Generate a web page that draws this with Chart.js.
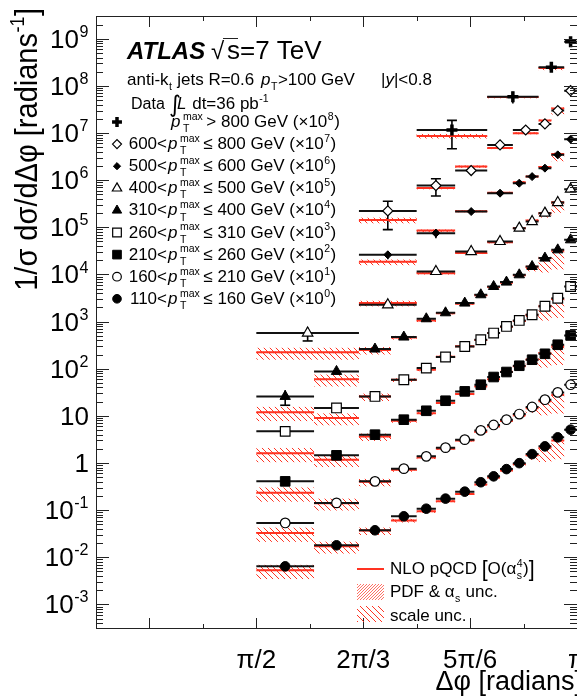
<!DOCTYPE html>
<html><head><meta charset="utf-8">
<script src="https://cdn.jsdelivr.net/npm/chart.js@4.4.0/dist/chart.umd.min.js"></script>
<style>html,body{margin:0;padding:0;background:#fff}canvas{display:block}</style>
</head><body>
<canvas id="grafico" width="577" height="697"></canvas>
<script>
// bin edges, in units of pi
const binsFine = [0.5,0.59,0.66,0.71,0.75,0.78,0.81,0.84,0.86,0.88,0.90,0.92,0.94,0.96,0.98,1.0];
const bins400 = [0.5,0.66,0.75,0.81,0.86,0.90,0.92,0.94,0.96,0.98,1.0];
const bins500 = [0.66,0.75,0.81,0.86,0.90,0.92,0.94,0.96,0.98,1.0];
const bins600 = [0.66,0.75,0.81,0.86,0.90,0.94,0.96,0.98,1.0];
const bins800 = [0.75,0.86,0.94,0.98,1.0];

// plotted values (already multiplied by the factor in the legend)
const val800 = [1.16e7, 5.9e7, 2.49e8, 8.67e8];
const err800 = [0.6, 0.28, 0.1, 0.06];
const nlo800 = [8.7e6, 5.8e7, 2.4e8, null];
const dn800 = [0.12, 0.06, 0.1, 0];
const up800 = [0.1, 0.05, 0.06, 0];

const val600 = [2.23e5, 7.68e5, 1.6e6, 5.6e6, 1.16e7, 1.56e7, 2.99e7, 7.9e7];
const err600 = [0.6, 0.4, 0.2, 0.08, 0.06, 0.06, 0.06, 0.06];
const nlo600 = [1.43e5, 6.8e5, 1.95e6, 4.8e6, 9.9e6, 1.85e7, 3.3e7, null];
const dn600 = [0.15, 0.06, 0.06, 0.05, 0.05, 0.1, 0.25, 0];
const up600 = [0.12, 0.05, 0.05, 0.05, 0.05, 0.05, 0.06, 0];

const val500 = [2.61e4, 7.52e4, 2.16e5, 5.3e5, 8.63e5, 1.19e6, 1.8e6, 3.44e6, 7.4e6];
const err500 = [0.2, 0.22, 0.06, 0.04, 0.04, 0.04, 0.04, 0.04, 0.04];
const nlo500 = [1.85e4, 8.5e4, 2.2e5, 5.4e5, 9.0e5, 1.2e6, 1.9e6, 3.6e6, null];
const dn500 = [0.15, 0.06, 0.05, 0.05, 0.05, 0.05, 0.12, 0.3, 0];
const up500 = [0.12, 0.05, 0.05, 0.05, 0.05, 0.05, 0.05, 0.06, 0];

const val400 = [570, 2270, 11530, 30600, 49900, 96000, 132500, 199600, 335000, 644000];
const err400 = [0.32, 0.06, 0.04, 0.03, 0.03, 0.03, 0.03, 0.03, 0.03, 0.03];
const nlo400 = [222, 2470, 10600, 28500, 48000, 96000, 140000, 200000, 340000, null];
const dn400 = [0.3, 0.15, 0.06, 0.05, 0.05, 0.05, 0.08, 0.2, 0.4, 0];
const up400 = [0.25, 0.12, 0.05, 0.05, 0.05, 0.05, 0.05, 0.06, 0.06, 0];

const val310 = [25.8, 87.5, 261, 469, 1146, 1535, 2465, 3700, 5545, 6875, 9815, 14720, 22200, 33250, 54200];
const err310 = [0.35, 0.1, 0.06, 0.04, 0.03, 0.03, 0.03, 0.03, 0.03, 0.03, 0.03, 0.03, 0.03, 0.03, 0.03];
const nlo310 = [11.9, 60, 250, 460, 1050, 1500, 2400, 3600, 5400, 6700, 9600, 14500, 22000, 32000, null];

const val260 = [4.68, 14.7, 25.8, 58.3, 103, 177, 296, 411, 570, 787, 1055, 1393, 2110, 3120, 5545];
const err260 = [0.12, 0.06, 0.05, 0.03, 0.03, 0.02, 0.02, 0.02, 0.02, 0.02, 0.02, 0.02, 0.02, 0.02, 0.02];
const nlo260 = [1.6, 9.0, 25.8, 58, 95, 180, 300, 405, 570, 780, 1030, 1390, 2100, 3000, null];

const val210 = [0.407, 1.45, 3.98, 8.28, 12.8, 20.9, 33, 45.7, 66.6, 85, 115.5, 155, 207, 322, 507];
const err210 = [0.08, 0.05, 0.03, 0.03, 0.02, 0.02, 0.02, 0.02, 0.02, 0.02, 0.02, 0.02, 0.02, 0.02, 0.02];
const nlo210 = [0.232, 1.17, 3.66, 7.9, 11.4, 18.6, 29, 42, 60, 86, 113, 155, 212, 300, null];

const val160 = [0.0534, 0.142, 0.407, 0.757, 1.38, 2.11, 3.12, 4.91, 6.4, 8.28, 10.9, 15.4, 22, 31.4, 45.7];
const err160 = [0.1, 0.05, 0.03, 0.03, 0.02, 0.02, 0.02, 0.02, 0.02, 0.02, 0.02, 0.02, 0.02, 0.02, 0.02];
const nlo160 = [0.0326, 0.14, 0.40, 0.72, 1.3, 2.0, 3.0, 4.6, 6.0, 7.8, 10.3, 14.5, 20.5, 28, null];

const val110 = [0.0064, 0.0179, 0.0373, 0.0738, 0.107, 0.175, 0.246, 0.39, 0.52, 0.74, 0.99, 1.54, 2.25, 3.49, 5.08];
const err110 = [0.08, 0.04, 0.03, 0.03, 0.02, 0.02, 0.02, 0.02, 0.02, 0.02, 0.02, 0.02, 0.02, 0.02, 0.02];
const nlo110 = [0.0053, 0.0171, 0.037, 0.0605, 0.094, 0.154, 0.22, 0.35, 0.49, 0.69, 0.95, 1.45, 2.1, 3.0, null];

// scale uncertainty of the fine-binned ranges (relative)
const dnFine = [0.35, 0.3, 0.2, 0.1, 0.07, 0.05, 0.05, 0.05, 0.05, 0.05, 0.07, 0.2, 0.5, 0.6, 0];
const upFine = [0.3, 0.25, 0.15, 0.08, 0.05, 0.05, 0.05, 0.05, 0.05, 0.05, 0.05, 0.06, 0.08, 0.08, 0];
const pdfUnc = 0.04;

// legend text
const legLow = ['', '600', '500', '400', '310', '260', '210', '160', '110'];
const legHigh = ['800', '800', '600', '500', '400', '310', '260', '210', '160'];
const legPow = ['8', '7', '6', '5', '4', '3', '2', '1', '0'];

const xTickVals = [1/2, 2/3, 5/6, 1];
const xTickText = ['\u03c0/2', '2\u03c0/3', '5\u03c0/6', '\u03c0'];
const yMin = Math.pow(10, -3.513), yMax = Math.pow(10, 9.483);

const RED = '#ff3322';
const fam = '"Liberation Sans", Arial, Helvetica, sans-serif';

const series = [
  {edges: bins800, val: val800, err: err800, nlo: nlo800, dn: dn800, up: up800, style: 'cross', fill: true, r: 5.5, bw: 3.5},
  {edges: bins600, val: val600, err: err600, nlo: nlo600, dn: dn600, up: up600, style: 'rectRot', fill: false, r: 5, bw: 1.2},
  {edges: bins500, val: val500, err: err500, nlo: nlo500, dn: dn500, up: up500, style: 'rectRot', fill: true, r: 4, bw: 1},
  {edges: bins400, val: val400, err: err400, nlo: nlo400, dn: dn400, up: up400, style: 'triangle', fill: false, r: 6, bw: 1.2},
  {edges: binsFine, val: val310, err: err310, nlo: nlo310, dn: dnFine, up: upFine, style: 'triangle', fill: true, r: 6, bw: 1},
  {edges: binsFine, val: val260, err: err260, nlo: nlo260, dn: dnFine, up: upFine, style: 'rect', fill: false, r: 6.8, bw: 1.2},
  {edges: binsFine, val: val210, err: err210, nlo: nlo210, dn: dnFine, up: upFine, style: 'rect', fill: true, r: 6.8, bw: 1},
  {edges: binsFine, val: val160, err: err160, nlo: nlo160, dn: dnFine, up: upFine, style: 'circle', fill: false, r: 4.8, bw: 1.2},
  {edges: binsFine, val: val110, err: err110, nlo: nlo110, dn: dnFine, up: upFine, style: 'circle', fill: true, r: 4.8, bw: 1}
];

function hatch(step, dir, lw) {
  const c = document.createElement('canvas');
  c.width = step; c.height = step;
  const g = c.getContext('2d');
  g.strokeStyle = RED; g.lineWidth = lw;
  g.beginPath();
  for (let k = -1; k <= 1; k++) {
    if (dir > 0) { g.moveTo(k * step, step); g.lineTo(k * step + step, 0); }
    else { g.moveTo(k * step, 0); g.lineTo(k * step + step, step); }
  }
  g.stroke();
  return g.createPattern(c, 'repeat');
}
const scalePat = hatch(6, -1, 1.0);
const pdfPat = hatch(3, 1, 0.7);

function partFont(p, size) {
  const s = p.sc ? size * p.sc : size;
  return (p.it ? 'italic ' : '') + (p.b ? 'bold ' : '') + s + 'px ' + (p.fam || fam);
}
function drawParts(ctx, parts, x, y, size, align) {
  const small = size * 0.62;
  const items = parts.map(q => {
    const p = typeof q === 'string' ? {t: q} : q;
    if (p.sup !== undefined || p.sub !== undefined) {
      ctx.font = small + 'px ' + fam;
      const w = Math.max(p.sup ? ctx.measureText(p.sup).width : 0, p.sub ? ctx.measureText(p.sub).width : 0);
      return {p, w: w + 1 + (p.pre || 0) + (p.gap || 0)};
    }
    ctx.font = partFont(p, size);
    return {p, w: ctx.measureText(p.t).width + (p.gap || 0)};
  });
  const total = items.reduce((a, b) => a + b.w, 0);
  let cx = align === 'right' ? x - total : align === 'center' ? x - total / 2 : x;
  ctx.textAlign = 'left'; ctx.textBaseline = 'alphabetic';
  for (const {p, w} of items) {
    if (p.sup !== undefined || p.sub !== undefined) {
      ctx.font = small + 'px ' + fam;
      const sx = cx + 0.5 + (p.pre || 0);
      if (p.sup) ctx.fillText(p.sup, sx, y - size * 0.42);
      if (p.sub) ctx.fillText(p.sub, sx, y + size * 0.3);
    } else {
      ctx.font = partFont(p, size);
      ctx.fillText(p.t, cx, y + (p.dy || 0));
    }
    cx += w;
  }
  return total;
}

// datasets built from the arrays
const datasets = [];
series.forEach(s => {
  const pts = [], seg = [], th = [];
  s.val.forEach((v, i) => {
    const lo = s.edges[i], hi = s.edges[i + 1];
    pts.push({x: (lo + hi) / 2, y: v});
    seg.push({x: lo, y: v}, {x: hi, y: v}, {x: hi, y: null});
    if (s.nlo[i] != null) th.push({x: lo, y: s.nlo[i]}, {x: hi, y: s.nlo[i]}, {x: hi, y: null});
  });
  datasets.push({type: 'scatter', data: pts, order: 0, pointStyle: s.style, pointRadius: s.r,
    pointBorderWidth: s.bw, pointBorderColor: '#000', pointBackgroundColor: s.fill ? '#000' : '#fff'});
  datasets.push({type: 'line', data: seg, order: 1, borderColor: '#111', borderWidth: 2,
    pointRadius: 0, spanGaps: false, fill: false});
  datasets.push({type: 'line', data: th, order: 2, borderColor: RED, borderWidth: 2,
    pointRadius: 0, spanGaps: false, fill: false});
});

const bandsPlugin = {
  id: 'bands',
  beforeDatasetsDraw(chart) {
    const {ctx, chartArea: a, scales: {x, y}} = chart;
    ctx.save();
    ctx.beginPath(); ctx.rect(a.left, a.top, a.right - a.left, a.bottom - a.top); ctx.clip();
    series.forEach(s => {
      s.val.forEach((v, i) => {
        const n = s.nlo[i];
        if (n == null) return;
        const x0 = x.getPixelForValue(s.edges[i]), x1 = x.getPixelForValue(s.edges[i + 1]);
        const t = y.getPixelForValue(n * (1 + s.up[i])), b = y.getPixelForValue(n * (1 - s.dn[i]));
        ctx.fillStyle = scalePat; ctx.fillRect(x0, t, x1 - x0, b - t);
        const pt = y.getPixelForValue(n * (1 + pdfUnc)), pb = y.getPixelForValue(n * (1 - pdfUnc));
        ctx.fillStyle = pdfPat; ctx.fillRect(x0, pt, x1 - x0, pb - pt);
      });
    });
    // statistical error bars
    ctx.strokeStyle = '#000'; ctx.lineWidth = 1.6;
    series.forEach(s => {
      s.val.forEach((v, i) => {
        const xc = x.getPixelForValue((s.edges[i] + s.edges[i + 1]) / 2);
        const yc = y.getPixelForValue(v);
        const yt = y.getPixelForValue(v * (1 + s.err[i]));
        const yb = y.getPixelForValue(Math.max(v * (1 - s.err[i]), yMin));
        ctx.beginPath(); ctx.moveTo(xc, yt); ctx.lineTo(xc, yb); ctx.stroke();
        ctx.beginPath();
        if (yc - yt > s.r + 1.5) { ctx.moveTo(xc - 5, yt); ctx.lineTo(xc + 5, yt); }
        if (yb - yc > s.r + 1.5) { ctx.moveTo(xc - 5, yb); ctx.lineTo(xc + 5, yb); }
        ctx.stroke();
      });
    });
    ctx.restore();
  },
  afterDraw(chart) {
    const {ctx, chartArea: a, scales: {x, y}} = chart;
    ctx.save();
    ctx.fillStyle = '#000'; ctx.strokeStyle = '#222'; ctx.lineWidth = 1;
    // frame
    ctx.strokeRect(a.left + 0.5, a.top + 0.5, a.right - a.left, a.bottom - a.top - 1);
    // y ticks, inside on both sides
    ctx.beginPath();
    for (let e = -4; e <= 9; e++) {
      for (let k = 1; k <= 9; k++) {
        const v = k * Math.pow(10, e);
        if (v < yMin || v > yMax) continue;
        const py = Math.round(y.getPixelForValue(v)) + 0.5;
        const len = k === 1 ? 13 : 7;
        ctx.moveTo(a.left, py); ctx.lineTo(a.left + len, py);
        ctx.moveTo(a.right, py); ctx.lineTo(a.right - len, py);
      }
    }
    // x ticks every pi/12
    for (let k = 3; k <= 12; k++) {
      const px = Math.round(x.getPixelForValue(k / 12)) + 0.5;
      const len = k % 2 === 0 ? 11 : 5;
      ctx.moveTo(px, a.bottom); ctx.lineTo(px, a.bottom - len);
      ctx.moveTo(px, a.top); ctx.lineTo(px, a.top + len);
    }
    ctx.stroke();
    // y tick labels
    for (let e = -3; e <= 9; e++) {
      const py = y.getPixelForValue(Math.pow(10, e)) + 9;
      let parts;
      if (e === 0) parts = ['1'];
      else if (e === 1) parts = ['10'];
      else parts = ['10', {sup: String(e)}];
      drawParts(ctx, parts, 89, py, 26, 'right');
    }
    // x tick labels
    xTickVals.forEach((v, i) => {
      drawParts(ctx, [xTickText[i]], x.getPixelForValue(v), 668, 26, 'center');
    });
    // axis titles
    drawParts(ctx, ['\u0394\u03c6 [radians]'], 582, 690, 27, 'right');
    ctx.save();
    ctx.translate(37, 8); ctx.rotate(-Math.PI / 2); ctx.scale(1, 1.1);
    drawParts(ctx, ['1/\u03c3 d\u03c3/d\u0394\u03c6 [radians', {sup: '-1'}, ']'], 0, 0, 29, 'right');
    ctx.restore();
    // ATLAS label
    drawParts(ctx, [{t: 'ATLAS', b: true, it: true}], 127, 59, 24, 'left');
    drawParts(ctx, ['\u221a'], 211, 59, 24, 'left');
    drawParts(ctx, ['s=7 TeV'], 227, 59, 26, 'left');
    ctx.beginPath(); ctx.moveTo(223, 38.5); ctx.lineTo(238, 38.5); ctx.stroke();
    drawParts(ctx, ['anti-k', {sub: 't'}, ' jets R=0.6'], 127, 85, 17, 'left');
    drawParts(ctx, [{t: 'p', it: true}, {sub: 'T'}, '>100 GeV'], 261, 85, 17, 'left');
    drawParts(ctx, ['|', {t: 'y', it: true}, '|<0.8'], 381, 85, 17, 'left');
    drawParts(ctx, ['Data'], 131, 109, 16, 'left');
    drawParts(ctx, [{t: '\u222b', fam: '"DejaVu Sans", sans-serif', sc: 1.45}], 169, 112, 16, 'left');
    drawParts(ctx, [{t: 'L', it: true, gap: 1}, ' dt=36 pb', {sup: '-1'}], 177, 109, 17, 'left');
    // marker legend
    series.forEach((s, i) => {
      const base = 127 + i * 22.1;
      ctx.fillStyle = s.fill ? '#000' : '#fff'; ctx.strokeStyle = '#000'; ctx.lineWidth = s.bw;
      ctx.beginPath();
      Chart.helpers.drawPoint(ctx, {pointStyle: s.style, radius: s.r * 0.9, borderWidth: s.bw}, 117, base - 5);
      ctx.fillStyle = '#000';
      if (legLow[i]) drawParts(ctx, [legLow[i] + '<'], 167, base, 17, 'right');
      const rel = legLow[i] ? '\u2264' : '>';
      drawParts(ctx, [{t: 'p', it: true}, {sup: 'max', sub: 'T', pre: 2, gap: 3}, rel + ' ' + legHigh[i] + ' GeV (\u00d710', {sup: legPow[i]}, ')'],
        legLow[i] ? 168 : 171, base, 17, 'left');
    });
    // NLO legend
    ctx.strokeStyle = RED; ctx.lineWidth = 2;
    ctx.beginPath(); ctx.moveTo(357, 569); ctx.lineTo(384, 569); ctx.stroke();
    ctx.fillStyle = pdfPat; ctx.fillRect(357, 584, 27, 16);
    ctx.fillStyle = scalePat; ctx.fillRect(357, 606, 27, 16);
    ctx.fillStyle = '#000';
    drawParts(ctx, ['NLO pQCD ', {t: '[', sc: 1.25, dy: 2}, 'O(\u03b1', {sup: '4', sub: 's'}, ')', {t: ']', sc: 1.25, dy: 2}], 390, 574, 17, 'left');
    drawParts(ctx, ['PDF & \u03b1', {sub: 's'}, ' unc.'], 390, 597, 17, 'left');
    drawParts(ctx, ['scale unc.'], 390, 621, 17, 'left');
    ctx.restore();
  }
};

const ctx = document.getElementById('grafico').getContext('2d');
new Chart(ctx, {
  type: 'scatter',
  data: {datasets},
  options: {
    responsive: false,
    animation: false,
    devicePixelRatio: 1,
    layout: {autoPadding: false, padding: {left: 96, right: 0, top: 16, bottom: 68}},
    plugins: {legend: {display: false}, tooltip: {enabled: false}},
    scales: {
      x: {type: 'linear', min: 0.25, max: 1, display: false},
      y: {type: 'logarithmic', min: yMin, max: yMax, display: false}
    }
  },
  plugins: [bandsPlugin]
});
</script>
</body></html>
